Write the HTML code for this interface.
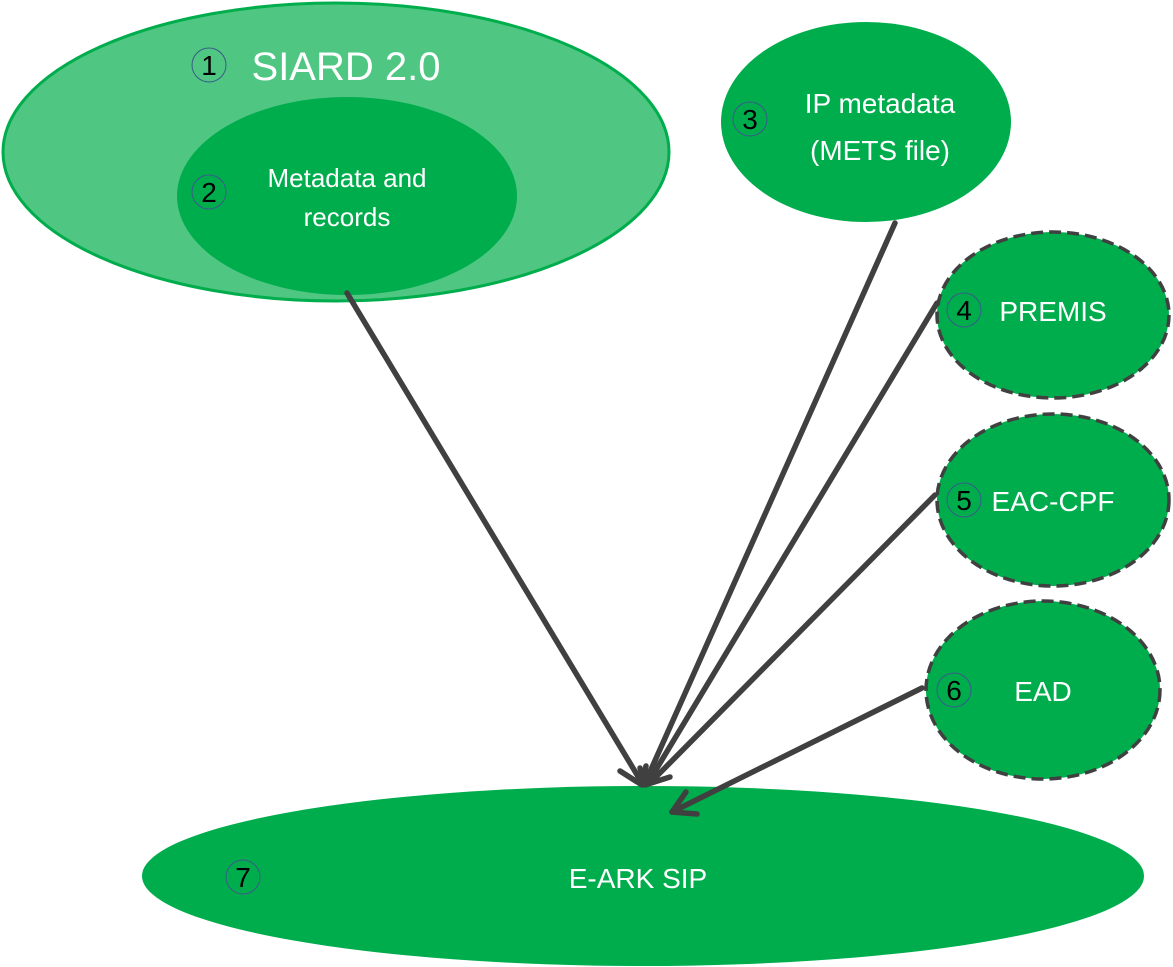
<!DOCTYPE html>
<html><head><meta charset="utf-8"><style>
html,body{margin:0;padding:0;background:#fff;}
svg{display:block;}
text{font-family:"Liberation Sans",sans-serif;}
</style></head><body>
<svg width="1173" height="967" viewBox="0 0 1173 967" xmlns="http://www.w3.org/2000/svg">
<ellipse cx="336" cy="152" rx="333" ry="149" fill="#4fc783" stroke="#00ad4d" stroke-width="3"/>
<ellipse cx="347" cy="196" rx="170" ry="99" fill="#00ad4d"/>
<ellipse cx="866" cy="122" rx="145" ry="100" fill="#00ad4d"/>
<ellipse cx="1053" cy="315" rx="116" ry="83" fill="#00ad4d" stroke="#404040" stroke-width="3.5" stroke-dasharray="12,6"/>
<ellipse cx="1053" cy="500" rx="116" ry="86" fill="#00ad4d" stroke="#404040" stroke-width="3.5" stroke-dasharray="12,6"/>
<ellipse cx="1043" cy="690" rx="117" ry="89" fill="#00ad4d" stroke="#404040" stroke-width="3.5" stroke-dasharray="12,6"/>
<ellipse cx="643" cy="876" rx="501" ry="90" fill="#00ad4d"/>
<g stroke="#404040" stroke-width="5.5" fill="none" stroke-linecap="round" stroke-linejoin="round">
<line x1="347" y1="293" x2="642" y2="783"/>
<line x1="895" y1="223" x2="645" y2="783"/>
<line x1="937" y1="303" x2="648" y2="783"/>
<line x1="935" y1="495" x2="652" y2="781"/>
<line x1="922" y1="688" x2="672" y2="812"/>
<polyline points="620,771 642,785 646,766"/>
<polyline points="640,768 645,785 670,777"/>
<polyline points="686,792 672,812 697,814"/>
</g>
<g stroke="#3a5a8a" stroke-width="1" fill="none">
<circle cx="209" cy="65" r="17"/>
<circle cx="209" cy="192" r="17"/>
<circle cx="750" cy="119" r="17"/>
<circle cx="964" cy="310" r="17"/>
<circle cx="964" cy="500" r="17"/>
<circle cx="954" cy="690" r="17"/>
<circle cx="243" cy="877" r="17"/>
</g>
<g fill="#000" font-size="28" text-anchor="middle">
<text x="209" y="75">1</text>
<text x="209" y="202">2</text>
<text x="750" y="129">3</text>
<text x="964" y="320">4</text>
<text x="964" y="510">5</text>
<text x="954" y="700">6</text>
<text x="243" y="887">7</text>
</g>
<g fill="#fff" text-anchor="middle">
<text x="346" y="80" font-size="40">SIARD 2.0</text>
<text x="347" y="187" font-size="26">Metadata and</text>
<text x="347" y="226" font-size="26">records</text>
<text x="880" y="113" font-size="28">IP metadata</text>
<text x="880" y="160" font-size="28">(METS file)</text>
<text x="1053" y="321" font-size="28">PREMIS</text>
<text x="1053" y="511" font-size="28">EAC-CPF</text>
<text x="1043" y="701" font-size="28">EAD</text>
<text x="638" y="888" font-size="28">E-ARK SIP</text>
</g>
</svg>
</body></html>
